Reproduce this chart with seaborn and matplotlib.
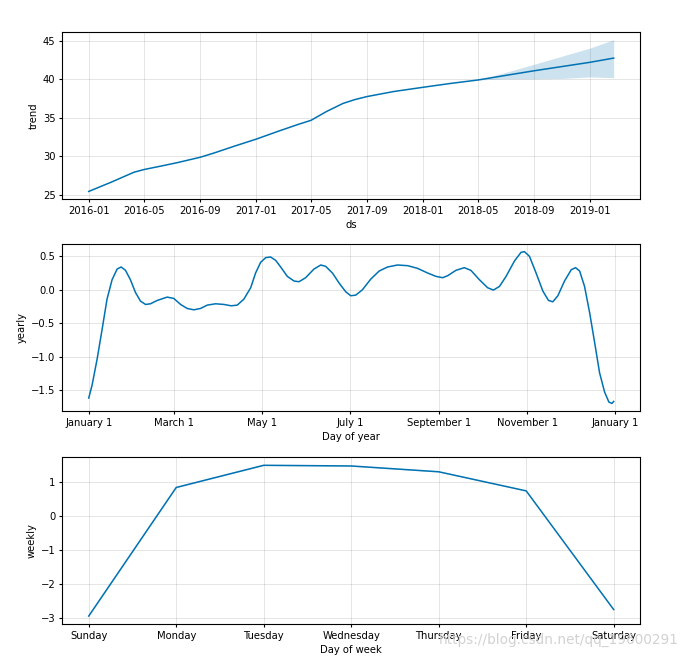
import pandas as pd
import seaborn as sns
import matplotlib.dates as mdates
from matplotlib import pyplot as plt
from matplotlib.ticker import FuncFormatter

# trend component
trend_dates = ['2016-01-01', '2016-02-19', '2016-04-09', '2016-05-01', '2016-06-07',
               '2016-07-13', '2016-09-01', '2016-10-01', '2016-11-15', '2017-01-01',
               '2017-02-17', '2017-04-02', '2017-05-01', '2017-06-04', '2017-07-10',
               '2017-08-05', '2017-09-01', '2017-10-29', '2018-01-01', '2018-03-02',
               '2018-05-01', '2018-07-01', '2018-09-01', '2018-11-01', '2019-01-01',
               '2019-02-22']
trend_vals = [25.4, 26.6, 27.9, 28.25, 28.7, 29.15, 29.85, 30.4, 31.3, 32.2,
              33.2, 34.1, 34.65, 35.8, 36.85, 37.35, 37.75, 38.4, 38.95, 39.45,
              39.9, 40.5, 41.1, 41.65, 42.2, 42.75]
trend_lower = trend_vals[:21] + [40.05, 40.05, 40.1, 40.3, 40.2]
trend_upper = trend_vals[:21] + [40.9, 41.95, 43.0, 44.05, 45.15]

# yearly seasonality, day offset from Jan 1
yearly_days = [0, 2.3, 5.8, 9.3, 12.7, 16.2, 19.7, 22.5, 25.5, 28.9, 32.4, 35.9,
               39.4, 42.8, 47.5, 54.4, 59, 63.7, 68.3, 72.9, 77.5, 82.2, 88, 93.8,
               98.8, 103, 107.6, 112.3, 115.7, 119.2, 122.7, 126.1, 129.6, 133.1,
               137.7, 142.4, 145.8, 150.4, 156.2, 160.9, 164.3, 169, 173.6, 178.2,
               181.7, 185.2, 189.8, 195.6, 201.4, 207.2, 214.1, 221.1, 228, 235,
               240.8, 245.4, 248.9, 254.6, 260.4, 265, 270.9, 276.6, 280.6, 284.8,
               289.4, 295.2, 299.8, 302.1, 305.6, 310.2, 314.9, 318.8, 321.8, 325.3,
               329.9, 334.6, 337.6, 340.4, 343.8, 347.3, 350.8, 354.2, 357.7, 360.7,
               362.8, 364]
yearly_vals = [-1.62, -1.43, -1.04, -0.59, -0.14, 0.15, 0.31, 0.34, 0.29, 0.15,
               -0.04, -0.17, -0.22, -0.21, -0.16, -0.11, -0.13, -0.22, -0.28, -0.30,
               -0.28, -0.23, -0.21, -0.22, -0.24, -0.23, -0.14, 0.03, 0.25, 0.41,
               0.48, 0.49, 0.44, 0.34, 0.20, 0.13, 0.12, 0.18, 0.31, 0.37, 0.35,
               0.25, 0.10, -0.03, -0.09, -0.08, 0.00, 0.16, 0.28, 0.34, 0.37, 0.36,
               0.32, 0.25, 0.20, 0.18, 0.21, 0.29, 0.33, 0.29, 0.15, 0.03, -0.005,
               0.05, 0.20, 0.43, 0.56, 0.57, 0.50, 0.25, -0.02, -0.16, -0.18, -0.09,
               0.13, 0.30, 0.33, 0.28, 0.05, -0.34, -0.79, -1.24, -1.53, -1.68,
               -1.70, -1.67]

# weekly seasonality
week_days = ['Sunday', 'Monday', 'Tuesday', 'Wednesday', 'Thursday', 'Friday', 'Saturday']
weekly_vals = [-2.93, 0.84, 1.49, 1.47, 1.30, 0.74, -2.74]
weekly_lower = [-2.94, 0.83, 1.48, 1.46, 1.29, 0.73, -2.75]
weekly_upper = [-2.92, 0.86, 1.51, 1.49, 1.32, 0.75, -2.73]

blue = '#0072B2'
plt.rcParams['font.family'] = ['DejaVu Sans']
plt.rcParams['font.size'] = 7.2
plt.rcParams['xtick.major.size'] = 2.5
plt.rcParams['ytick.major.size'] = 2.5
plt.rcParams['xtick.major.pad'] = 2.5
plt.rcParams['ytick.major.pad'] = 2.5
plt.rcParams['axes.labelpad'] = 2.9


def style_axis(ax):
    ax.grid(True, which='major', c='gray', ls='-', lw=0.72, alpha=0.2)
    ax.set_axisbelow(True)


fig = plt.figure(figsize=(6.85, 6.61), dpi=100)
left, width, height = 0.0912, 0.843, 0.2526

# trend
ax1 = fig.add_axes([left, 0.6989, width, height])
tdates = pd.to_datetime(trend_dates)
sns.lineplot(x=tdates, y=trend_vals, ax=ax1, color=blue, lw=1.1, estimator=None)
ax1.fill_between(tdates, trend_lower, trend_upper, color=blue, alpha=0.2, lw=0)
ax1.xaxis.set_major_locator(mdates.MonthLocator(bymonth=[1, 5, 9]))
ax1.xaxis.set_major_formatter(mdates.DateFormatter('%Y-%m'))
ax1.set_xlabel('ds')
ax1.set_ylabel('trend')
style_axis(ax1)

# yearly
ax2 = fig.add_axes([left, 0.3782, width, height])
ydates = [pd.Timestamp('2017-01-01') + pd.Timedelta(days=d) for d in yearly_days]
sns.lineplot(x=ydates, y=yearly_vals, ax=ax2, color=blue, lw=1.1, estimator=None)
ax2.xaxis.set_major_locator(mdates.MonthLocator(bymonth=[1, 3, 5, 7, 9, 11]))
ax2.xaxis.set_major_formatter(FuncFormatter(
    lambda v, pos: mdates.num2date(v).strftime('%B') + ' ' + str(mdates.num2date(v).day)))
ax2.set_xlabel('Day of year')
ax2.set_ylabel('yearly')
style_axis(ax2)

# weekly
ax3 = fig.add_axes([left, 0.0560, width, height])
wx = list(range(len(week_days)))
sns.lineplot(x=wx, y=weekly_vals, ax=ax3, color=blue, lw=1.1, estimator=None)
ax3.fill_between(wx, weekly_lower, weekly_upper, color=blue, alpha=0.2, lw=0)
ax3.set_xticks(wx)
ax3.set_xticklabels(week_days)
ax3.set_xlabel('Day of week')
ax3.set_ylabel('weekly')
style_axis(ax3)

# csdn watermark sitting over the bottom tick labels, as in the source image
fig.text(0.641, 0.026, 'https://blog.csdn.net/qq_19600291', color='#d2d2d2',
         fontsize=9.8)

plt.savefig('out.png', dpi=100)
plt.close()
